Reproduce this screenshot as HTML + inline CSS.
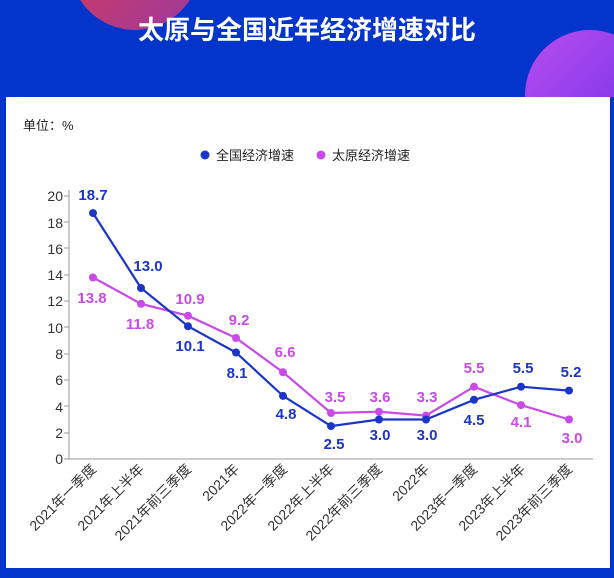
<!DOCTYPE html>
<html><head><meta charset="utf-8"><style>
body{margin:0;width:614px;height:578px;overflow:hidden;background:#0334cc;font-family:"Liberation Sans","Noto Sans CJK SC",sans-serif;}
</style></head><body>
<svg width="614" height="578" style="position:absolute;left:0;top:0" font-family="Liberation Sans, Noto Sans CJK SC, sans-serif">
<defs>
<linearGradient id="g1" x1="0" y1="0" x2="1" y2="1"><stop offset="0" stop-color="#e23a4a"/><stop offset="1" stop-color="#9a3aa0"/></linearGradient>
<linearGradient id="g2" x1="0" y1="0" x2="1" y2="1"><stop offset="0" stop-color="#b84ef0"/><stop offset="1" stop-color="#6a2ee6"/></linearGradient>
<clipPath id="top"><rect x="0" y="0" width="614" height="97"/></clipPath>
</defs>
<rect width="614" height="578" fill="#0334cc"/>
<circle cx="135" cy="-35" r="65" fill="url(#g1)"/>
<circle cx="590" cy="95" r="65" fill="url(#g2)" clip-path="url(#top)"/>
<text x="307" y="39" text-anchor="middle" font-size="26" font-weight="bold" fill="#fff">太原与全国近年经济增速对比</text>
<rect x="6" y="97" width="604" height="471" fill="#fff"/>
<text x="23" y="130" font-size="13" fill="#222">单位：%</text>
<circle cx="205" cy="155" r="4.5" fill="#1a35c8"/><text x="216" y="160" font-size="13" fill="#222">全国经济增速</text>
<circle cx="321" cy="155" r="4.5" fill="#c94ae8"/><text x="332" y="160" font-size="13" fill="#222">太原经济增速</text>
<g stroke="#999" stroke-width="1">
<line x1="67" y1="459" x2="593" y2="459"/><line x1="69" y1="190" x2="69" y2="459"/>
</g>
<g font-size="14" fill="#333" text-anchor="end">
<text x="63" y="464">0</text><text x="63" y="438">2</text><text x="63" y="412">4</text><text x="63" y="385">6</text><text x="63" y="359">8</text><text x="63" y="333">10</text><text x="63" y="306">12</text><text x="63" y="280">14</text><text x="63" y="254">16</text><text x="63" y="228">18</text><text x="63" y="201">20</text>
</g>
<g stroke="#999"><line x1="64" y1="459" x2="69" y2="459"/><line x1="64" y1="433" x2="69" y2="433"/><line x1="64" y1="406" x2="69" y2="406"/><line x1="64" y1="380" x2="69" y2="380"/><line x1="64" y1="354" x2="69" y2="354"/><line x1="64" y1="327" x2="69" y2="327"/><line x1="64" y1="301" x2="69" y2="301"/><line x1="64" y1="275" x2="69" y2="275"/><line x1="64" y1="248" x2="69" y2="248"/><line x1="64" y1="222" x2="69" y2="222"/><line x1="64" y1="196" x2="69" y2="196"/></g>
<g font-size="14" fill="#333" text-anchor="end">
<text transform="translate(97,470) rotate(-45)">2021年一季度</text>
<text transform="translate(145,470) rotate(-45)">2021年上半年</text>
<text transform="translate(192,470) rotate(-45)">2021年前三季度</text>
<text transform="translate(240,470) rotate(-45)">2021年</text>
<text transform="translate(288,470) rotate(-45)">2022年一季度</text>
<text transform="translate(335,470) rotate(-45)">2022年上半年</text>
<text transform="translate(383,470) rotate(-45)">2022年前三季度</text>
<text transform="translate(430,470) rotate(-45)">2022年</text>
<text transform="translate(478,470) rotate(-45)">2023年一季度</text>
<text transform="translate(526,470) rotate(-45)">2023年上半年</text>
<text transform="translate(573,470) rotate(-45)">2023年前三季度</text>
</g>
<polyline fill="none" stroke="#c94ae8" stroke-width="2.2" points="93,277.5 141,303.8 188,315.7 236,338 283,372.2 331,413 379,411.7 426,415.6 474,386.7 521,405.1 569,419.5"/>
<polyline fill="none" stroke="#1a35c8" stroke-width="2.2" points="93,213.1 141,288 188,326.2 236,352.5 283,395.9 331,426.1 379,419.5 426,419.5 474,399.8 521,386.7 569,390.6"/>
<g fill="#c94ae8"><circle cx="93" cy="277.5" r="4"/><circle cx="141" cy="303.8" r="4"/><circle cx="188" cy="315.7" r="4"/><circle cx="236" cy="338" r="4"/><circle cx="283" cy="372.2" r="4"/><circle cx="331" cy="413" r="4"/><circle cx="379" cy="411.7" r="4"/><circle cx="426" cy="415.6" r="4"/><circle cx="474" cy="386.7" r="4"/><circle cx="521" cy="405.1" r="4"/><circle cx="569" cy="419.5" r="4"/></g>
<g fill="#1a35c8"><circle cx="93" cy="213.1" r="4"/><circle cx="141" cy="288" r="4"/><circle cx="188" cy="326.2" r="4"/><circle cx="236" cy="352.5" r="4"/><circle cx="283" cy="395.9" r="4"/><circle cx="331" cy="426.1" r="4"/><circle cx="379" cy="419.5" r="4"/><circle cx="426" cy="419.5" r="4"/><circle cx="474" cy="399.8" r="4"/><circle cx="521" cy="386.7" r="4"/><circle cx="569" cy="390.6" r="4"/></g>
<g font-size="15" font-weight="bold" fill="#1a35c8" text-anchor="middle">
<text x="93" y="200">18.7</text><text x="148" y="271">13.0</text><text x="190" y="351">10.1</text><text x="237" y="378">8.1</text><text x="286" y="419">4.8</text><text x="334" y="449">2.5</text><text x="380" y="440">3.0</text><text x="427" y="440">3.0</text><text x="474" y="425">4.5</text><text x="523" y="373">5.5</text><text x="571" y="377">5.2</text>
</g>
<g font-size="15" font-weight="bold" fill="#c94ae8" text-anchor="middle">
<text x="92" y="303">13.8</text><text x="140" y="329">11.8</text><text x="190" y="304">10.9</text><text x="239" y="325">9.2</text><text x="285" y="357">6.6</text><text x="335" y="402">3.5</text><text x="380" y="402">3.6</text><text x="427" y="402">3.3</text><text x="474" y="373">5.5</text><text x="521" y="427">4.1</text><text x="572" y="443">3.0</text>
</g>
</svg>
</body></html>
